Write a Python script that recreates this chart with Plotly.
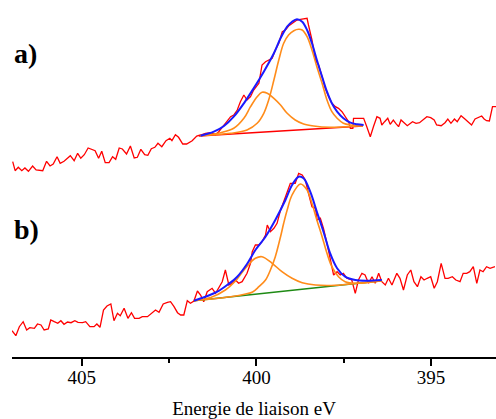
import plotly.graph_objects as go

# ---------------- data (binding energy in eV, intensity in arbitrary units, spectra stacked) -------------
# spectrum a) raw signal
energy_a = [406.98, 406.91, 406.82, 406.72, 406.63, 406.53, 406.41, 406.31, 406.12, 406.01, 405.91, 405.82,
            405.71, 405.62, 405.51, 405.33, 405.22, 405.12, 405.03, 404.93, 404.82, 404.62, 404.52, 404.43,
            404.33, 404.22, 404.12, 404.03, 403.93, 403.84, 403.72, 403.61, 403.50, 403.41, 403.31, 403.20,
            403.11, 403.01, 402.91, 402.82, 402.71, 402.59, 402.48, 402.42, 402.32, 402.23, 402.11, 402.00,
            401.84, 401.71, 401.60, 401.46, 401.31, 401.17, 401.08, 400.98, 400.89, 400.74, 400.65, 400.55,
            400.46, 400.36, 400.27, 400.17, 400.08, 399.93, 399.84, 399.74, 399.65, 399.55, 399.46, 399.36,
            399.26, 399.17, 399.08, 398.93, 398.84, 398.74, 398.65, 398.55, 398.51, 398.41, 398.31, 398.22,
            398.12, 398.03, 397.93, 397.84, 397.74, 397.65, 397.55, 397.46, 397.36, 397.31, 397.24, 397.22,
            397.08, 396.93, 396.84, 396.74, 396.65, 396.55, 396.46, 396.41, 396.33, 396.24, 396.17, 396.08,
            396.01, 395.93, 395.86, 395.77, 395.68, 395.53, 395.43, 395.33, 395.22, 395.12, 395.01, 394.91,
            394.84, 394.71, 394.60, 394.52, 394.43, 394.33, 394.25, 394.14, 394.03, 393.93, 393.84, 393.74,
            393.65, 393.55, 393.48, 393.41, 393.33, 393.24, 393.14]
intensity_a = [195.3, 186.3, 189.7, 186.3, 189.0, 185.7, 191.0, 187.0, 186.3, 195.7, 191.0, 193.0,
               200.3, 193.7, 195.7, 201.3, 196.3, 203.7, 198.7, 202.3, 209.0, 206.3, 198.7, 205.7,
               194.3, 194.3, 200.3, 197.7, 209.0, 208.0, 203.0, 211.0, 199.0, 199.7, 207.7, 202.3,
               201.7, 208.3, 209.7, 213.7, 210.3, 216.3, 218.7, 216.3, 222.3, 219.7, 213.0, 213.0,
               216.3, 221.0, 222.0, 223.7, 224.3, 222.3, 225.3, 230.3, 233.7, 240.3, 242.0, 247.0,
               255.3, 262.0, 257.0, 260.3, 267.0, 273.7, 292.0, 295.3, 297.0, 298.7, 307.0, 313.7,
               325.3, 327.0, 331.0, 335.3, 337.0, 337.7, 338.0, 338.7, 332.0, 317.0, 297.0, 292.0,
               280.3, 268.7, 260.3, 253.7, 250.3, 248.7, 245.3, 240.3, 235.3, 228.7, 228.7, 238.7,
               238.7, 238.7, 230.3, 220.3, 230.3, 240.3, 238.7, 232.0, 235.3, 238.7, 232.7, 237.0,
               233.7, 230.3, 237.0, 233.7, 231.3, 235.3, 233.7, 234.3, 237.0, 240.3, 239.3, 237.0,
               232.0, 231.3, 234.3, 238.0, 233.7, 238.0, 235.3, 241.3, 238.0, 234.7, 232.0, 238.0,
               239.7, 241.0, 238.0, 236.3, 236.0, 250.3, 250.3]

# spectrum a) fit envelope, components and baseline
fit_energy_a = [401.60, 401.22, 400.93, 400.65, 400.36, 400.08, 399.79, 399.50, 399.31, 399.12, 398.98,
                398.84, 398.69, 398.55, 398.41, 398.27, 398.12, 397.98, 397.84, 397.69, 397.51, 397.31,
                397.12, 396.93]
fit_a = [221.3, 225.3, 231.0, 240.3, 253.7, 268.7, 285.3, 303.7, 318.7, 330.3, 335.3,
         337.7, 335.3, 327.0, 313.7, 297.0, 280.3, 265.3, 253.7, 245.3, 238.7, 234.3,
         232.7, 232.0]
comp1_energy_a = [401.60, 401.03, 400.65, 400.36, 400.17, 399.98, 399.84, 399.69, 399.50, 399.31, 399.12,
                  398.89, 398.65, 398.36, 397.89, 397.41, 396.95]
comp1_a = [221.3, 224.3, 228.7, 238.7, 250.3, 260.3, 264.7, 263.7, 258.7, 252.0, 243.7,
           237.0, 233.0, 231.0, 229.7, 230.3, 231.2]
comp2_energy_a = [401.60, 400.74, 400.27, 399.98, 399.79, 399.65, 399.50, 399.36, 399.22, 399.08, 398.93,
                  398.79, 398.69, 398.55, 398.41, 398.27, 398.12, 397.98, 397.84, 397.69, 397.51, 397.31,
                  396.95]
comp2_a = [221.3, 223.7, 227.0, 233.7, 243.7, 257.0, 277.0, 297.0, 313.7, 322.0, 326.3,
           327.7, 327.0, 320.3, 307.0, 290.3, 273.7, 257.0, 245.3, 238.7, 233.7, 232.0,
           231.3]
baseline_energy_a = [401.65, 396.95]
baseline_a = [221.0, 231.0]

# spectrum b) raw signal
energy_b = [407.00, 406.89, 406.79, 406.68, 406.58, 406.49, 406.36, 406.27, 406.17, 406.08, 405.96, 405.89,
            405.79, 405.69, 405.60, 405.51, 405.41, 405.31, 405.20, 405.11, 404.98, 404.89, 404.77, 404.65,
            404.57, 404.48, 404.38, 404.28, 404.17, 404.08, 403.98, 403.90, 403.79, 403.68, 403.58, 403.49,
            403.36, 403.27, 403.12, 402.98, 402.89, 402.79, 402.67, 402.55, 402.46, 402.36, 402.26, 402.17,
            402.08, 401.98, 401.89, 401.79, 401.69, 401.60, 401.51, 401.41, 401.27, 401.17, 401.08, 400.98,
            400.89, 400.79, 400.69, 400.60, 400.51, 400.41, 400.27, 400.17, 400.12, 400.03, 399.93, 399.84,
            399.74, 399.69, 399.60, 399.50, 399.41, 399.31, 399.22, 399.12, 399.03, 398.89, 398.79, 398.69,
            398.60, 398.51, 398.41, 398.31, 398.26, 398.17, 398.08, 397.98, 397.89, 397.79, 397.69, 397.60,
            397.51, 397.41, 397.27, 397.17, 397.08, 396.98, 396.89, 396.79, 396.69, 396.60, 396.50, 396.41,
            396.31, 396.22, 396.12, 395.98, 395.89, 395.79, 395.68, 395.58, 395.49, 395.39, 395.29, 395.20,
            395.11, 395.01, 394.91, 394.82, 394.71, 394.60, 394.51, 394.39, 394.29, 394.17, 394.08, 393.98,
            393.89, 393.79, 393.69, 393.60, 393.51, 393.41, 393.31, 393.17]
intensity_b = [26.3, 21.3, 30.3, 35.3, 27.0, 29.3, 28.7, 33.0, 32.0, 27.0, 28.0, 37.0,
               35.3, 33.7, 36.3, 32.7, 35.0, 34.3, 36.3, 34.7, 34.3, 35.3, 30.3, 30.3,
               33.0, 29.7, 47.0, 51.0, 53.0, 36.3, 43.7, 41.3, 48.7, 38.7, 44.3, 38.7,
               38.7, 40.3, 40.3, 44.7, 47.0, 44.7, 53.0, 54.7, 55.3, 50.3, 44.3, 42.0,
               42.0, 56.3, 53.7, 56.0, 66.0, 62.0, 55.3, 65.3, 68.7, 63.7, 68.7, 75.3,
               87.0, 72.0, 73.7, 77.0, 73.7, 75.3, 83.7, 93.7, 105.3, 112.0, 112.0, 115.3,
               122.0, 132.0, 125.3, 128.7, 133.7, 147.0, 155.3, 165.3, 173.7, 173.7, 183.7, 182.0,
               177.0, 163.7, 150.3, 148.7, 137.0, 138.7, 128.7, 113.7, 97.0, 82.0, 85.3, 82.0,
               83.7, 78.7, 77.0, 63.7, 77.0, 83.7, 82.0, 73.7, 80.3, 73.7, 83.7, 75.3,
               72.0, 78.7, 72.0, 83.7, 78.7, 67.0, 82.0, 87.0, 75.3, 70.3, 80.3, 77.0,
               78.7, 80.3, 68.7, 75.3, 93.7, 78.7, 78.7, 80.3, 77.0, 75.3, 83.7, 83.7,
               85.3, 90.3, 73.7, 87.0, 85.3, 90.3, 88.7, 90.3]

# spectrum b) fit envelope, components and baseline
fit_energy_b = [401.79, 401.41, 401.12, 400.84, 400.55, 400.27, 400.03, 399.74, 399.46, 399.17, 398.98,
                398.79, 398.65, 398.46, 398.27, 398.08, 397.89, 397.69, 397.46, 397.17, 396.84, 396.41]
fit_b = [56.3, 61.0, 65.3, 72.0, 80.3, 93.0, 107.0, 120.3, 137.0, 157.0, 172.0,
         180.3, 178.7, 165.3, 145.3, 125.3, 103.7, 88.7, 80.3, 77.0, 76.3, 77.0]
comp1_energy_b = [401.79, 401.31, 400.89, 400.60, 400.31, 400.03, 399.84, 399.55, 399.27, 398.98, 398.69,
                  398.31, 397.74, 397.03, 396.41]
comp1_b = [56.3, 59.5, 67.0, 76.0, 89.0, 98.7, 100.3, 93.7, 85.3, 78.7, 74.3,
           72.0, 71.7, 74.0, 76.3]
comp2_energy_b = [401.79, 400.74, 400.31, 400.11, 399.93, 399.74, 399.60, 399.46, 399.31, 399.22, 399.12,
                  398.98, 398.74, 398.55, 398.41, 398.27, 398.12, 397.98, 397.84, 397.65, 397.46, 397.17,
                  396.41]
comp2_b = [56.3, 60.3, 63.0, 65.0, 70.3, 77.0, 87.0, 100.3, 120.3, 133.7, 147.0,
           162.0, 173.0, 167.0, 153.7, 137.0, 120.3, 103.7, 90.3, 80.3, 75.3, 73.7,
           76.3]
baseline_energy_b = [401.79, 396.41]
baseline_b = [56.3, 76.3]

tick_values = [405, 400, 395]
tick_labels = ["405", "400", "395"]
x_title = "Energie de liaison eV"
panel_labels = ["a)", "b)"]
panel_label_levels = [304, 128]

# ---------------- figure ----------------
RED = "#ff0000"
BLUE = "#1a1aff"
ORANGE = "#ff8c1a"
GREEN = "#1e8a14"

fig = go.Figure()

def add_panel(e_raw, i_raw, e_base, i_base, base_color, e_c1, c1, e_c2, c2, e_fit, fit):
    fig.add_trace(go.Scatter(x=e_raw, y=i_raw, mode="lines",
                             line=dict(color=RED, width=1.3)))
    fig.add_trace(go.Scatter(x=e_base, y=i_base, mode="lines",
                             line=dict(color=base_color, width=1.6)))
    fig.add_trace(go.Scatter(x=e_c1, y=c1, mode="lines",
                             line=dict(color=ORANGE, width=1.6, shape="spline", smoothing=1.0)))
    fig.add_trace(go.Scatter(x=e_c2, y=c2, mode="lines",
                             line=dict(color=ORANGE, width=1.6, shape="spline", smoothing=1.0)))
    fig.add_trace(go.Scatter(x=e_fit, y=fit, mode="lines",
                             line=dict(color=BLUE, width=2, shape="spline", smoothing=1.0)))

add_panel(energy_a, intensity_a, baseline_energy_a, baseline_a, RED,
          comp1_energy_a, comp1_a, comp2_energy_a, comp2_a, fit_energy_a, fit_a)
add_panel(energy_b, intensity_b, baseline_energy_b, baseline_b, GREEN,
          comp1_energy_b, comp1_b, comp2_energy_b, comp2_b, fit_energy_b, fit_b)

for lab, lev in zip(panel_labels, panel_label_levels):
    fig.add_annotation(x=0, xref="paper", xanchor="left", y=lev, yref="y", yanchor="middle",
                       text="<b>" + lab + "</b>", showarrow=False,
                       font=dict(family="Liberation Serif", size=28, color="black"))

fig.update_layout(
    width=496, height=419,
    margin=dict(l=12, r=0, t=0, b=62, autoexpand=False),
    paper_bgcolor="white", plot_bgcolor="white",
    showlegend=False,
    font=dict(family="Liberation Serif", color="black"),
    xaxis=dict(range=[407.0, 393.14], showline=True, linecolor="black", linewidth=2,
               showgrid=False, zeroline=False, ticks="outside", ticklen=7, tickwidth=2,
               tickcolor="black", tickvals=tick_values, ticktext=tick_labels,
               tickfont=dict(family="Liberation Serif", size=19, color="black"),
               ticklabelstandoff=-5,
               automargin=False,
               minor=dict(ticks="outside", ticklen=4, tickwidth=2, tickcolor="black", dtick=2.5,
                          tick0=0, showgrid=False),
               title=dict(text=x_title, font=dict(family="Liberation Serif", size=19, color="black"),
                          standoff=15)),
    yaxis=dict(range=[0, 357], visible=False),
)

fig.write_html("out.html", config={"displayModeBar": False},
               post_script="document.body.style.margin='0';document.body.style.overflow='hidden';")
